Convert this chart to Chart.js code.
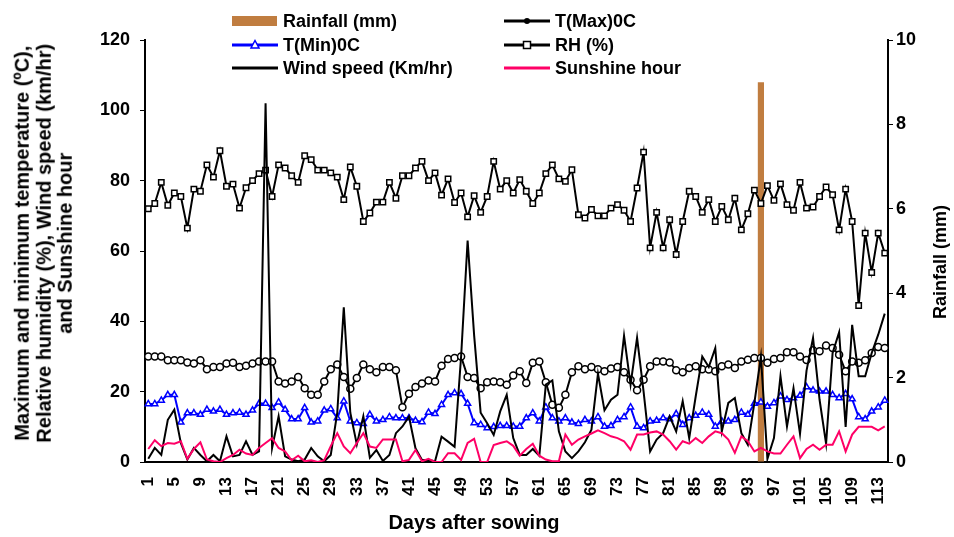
<!DOCTYPE html>
<html>
<head>
<meta charset="utf-8">
<script src="https://cdn.jsdelivr.net/npm/chart.js@4.4.1/dist/chart.umd.min.js"></script>
<style>
html,body{margin:0;padding:0;background:#fff;}
#wrap{position:relative;width:954px;height:537px;font-family:"Liberation Sans",Arial,sans-serif;color:#000;overflow:hidden;}
#c{position:absolute;left:0;top:0;}
.lgt{position:absolute;font-weight:bold;font-size:18px;line-height:20px;white-space:nowrap;}
.lgs{position:absolute;}
.ttl{position:absolute;font-weight:bold;white-space:nowrap;text-align:center;}
</style>
</head>
<body>
<div id="wrap">
<canvas id="c" width="954" height="537"></canvas>
<div id="legend"></div>
<div class="ttl" id="ytitle" style="font-size:20px;line-height:21.5px;width:440px;left:-176px;top:210.5px;transform:rotate(-90deg);">Maximum and minimum temperature (ºC),<br>Relative humidity (%), Wind speed (km/hr)<br>and Sunshine hour</div>
<div class="ttl" id="y1title" style="font-size:18px;line-height:20px;width:160px;left:860px;top:252px;transform:rotate(-90deg);">Rainfall (mm)</div>
<div class="ttl" id="xtitle" style="font-size:20px;line-height:24px;width:300px;left:324px;top:510px;">Days after sowing</div>
</div>
<script>
// ---- data ----
const days = Array.from({length:114}, (_, i) => String(i + 1));

const tmax = [30,30,30,28.9,28.9,28.9,28.3,28,28.9,26.4,27,27,28,28.2,
  27,27.4,28,28.6,28.6,28.6,22.9,22.3,22.9,24.2,21,19.1,19.1,22.9,
  26.4,27.7,24.2,20.8,23.9,27.7,26.4,25.5,27,27,26.1,15.6,19.4,21.3,22.3,
  23.2,22.9,27.4,29.3,29.6,30,24.2,23.9,21,22.7,22.9,22.7,22,24.6,
  25.8,22.5,28.2,28.6,22.7,16.3,15.4,19.1,25.5,27.2,26.4,27,26.4,25.8,26.6,
  27,25.5,23.4,20.4,23.4,27.2,28.6,28.6,28.3,26.1,25.5,26.7,27.2,26.4,
  26.3,25.8,27.2,27.7,26.7,28.6,29.1,29.6,29.6,28.2,29.3,29.6,31.2,31.2,30,
  29,31.8,31.5,33.1,32.4,30.5,25.8,28.6,28.2,28.9,31,32.7,32.4];

const tmin = [16.5,16.5,17.5,19.1,19.1,11.3,13.9,13.9,13.5,14.9,14.4,14.9,13.5,13.9,
  14.1,13.5,14.7,16.6,16.6,15.4,17,14.9,12.2,12.2,15.4,11.3,11.6,14.7,
  15.1,12.5,17.3,11.6,11.1,10.9,13.5,11.6,12,12.8,12.5,12.5,12.5,11.8,11.4,
  14.1,13.7,16.3,19.1,19.6,19.4,16.6,11.1,10.6,9.7,10,10.3,10.3,10.1,
  10.1,12.5,13.9,11.6,15.6,12.5,11.6,12.5,11.3,10.9,12,11.6,12.8,10.1,10.3,
  12,12.8,15.6,10.1,9.7,11.6,11.8,12.5,12.2,13.7,10.6,12.5,13.2,14.1,
  13.5,10.1,11.6,11.6,12,14.1,13.5,16.6,17,15.8,16.8,18.7,17.7,18.2,18.9,
  21.3,20.4,20.1,20.1,19.1,18.2,19.4,17.9,12.8,12.2,14.4,15.6,17.5];

const rh = [72,73.5,79.5,73,76.5,75.5,66.5,77.6,77,84.5,81,88.5,78.4,79,
  72.2,78,80,82,83,75.5,84.5,83.6,81.4,79.5,87.1,86,83,83,
  82.2,81,74.6,83.9,78.4,68.4,70.8,73.9,73.9,79.5,75,81.4,81.4,83.6,85.5,
  80,82.2,75.9,80.5,73.8,76.5,69.7,75.7,71,75.5,85.5,77.6,80,76.5,
  80.3,77,73.5,76.5,82,84.5,80.5,79.8,83.1,70.3,69.4,71.8,70,70,72.2,
  73.2,71.6,68.4,77.9,88.1,60.9,71,60.9,68.9,59,68.4,77,75.5,71,
  74.6,68.4,72.7,68.9,75,66,70.6,77.3,73.5,78.6,74.4,79.1,73.2,71.6,79.5,
  72.2,72.5,75.5,78.2,76,66,77.6,68.4,44.5,65.1,53.9,65.1,59.4];

const wind = [0.9,4,2,12,14.9,5.4,0.7,4,2,0.2,2,0.2,7.3,1.6,
  2,5.9,2,3,102,4,13,1.6,0.7,0.2,0.7,4,1.6,0.2,
  2,14,44,14,5,13,1.2,3.4,0.3,2,8.2,10.1,12.9,3.9,0.6,
  0.6,0.2,7.2,5.8,4.3,30,63,36,14,11,7.7,14.4,19.1,6.8,
  2,2,3.7,1.8,22,23.2,8.7,3,1.1,3,5.6,9.2,25.1,14.7,17.7,
  19.1,35.9,22,35.3,20,3,6.4,8.2,13,8.7,17.3,6.8,18.7,30,
  27,32.4,8.7,16.8,18.2,8.2,4.9,16.8,30,0.9,6.8,24.4,10.1,21,8,
  26,35.3,17.7,5.2,31,36.9,10,39,24.4,24.4,31,36.2,42.2];

const sunshine = [3.7,6.2,4.5,5.4,5.2,5.9,0.9,3.7,5.6,0.7,0.2,0,1.1,2,
  3.5,2.4,2,4,5.4,6.8,4,3,0.5,1.8,0.2,0.5,0,0.5,
  4.5,8.2,4.4,2.5,5.4,8.2,4.4,4,6.4,6.4,6.4,0.2,0.6,3.4,0.2,
  0.9,0,0,2.5,2.5,0.6,5.4,6.6,0,0,4.8,5.4,5.9,4.6,
  1.8,3.7,5.2,1.8,0.7,0.2,0.2,7.8,4.9,6.4,7.3,8.1,9,8.2,7.3,
  6.8,5.9,3.5,7.8,7.8,8.4,8.7,7.8,5.9,3.5,5.9,5.2,6.8,5.4,
  7.3,8.7,8.2,6.4,2.6,7.3,5.9,3,4,3,2.4,2.4,4.9,7.3,1.1,
  3.7,4.9,3.5,4.9,4.9,8.7,3,7.8,10,10,10,9,10.1];

const rainDays = [95];
const rainMm = [9];
const rain = days.map(d => { const k = rainDays.indexOf(Number(d)); return k >= 0 ? rainMm[k] : null; });

const leftTicks = [0, 20, 40, 60, 80, 100, 120];
const rightTicks = [0, 2, 4, 6, 8, 10];

// ---- colours ----
const C_RAIN = '#C07D40', C_TMIN = '#0000FF', C_SUN = '#FF0066', C_BLK = '#000000';

const tickFont = {family: '"Liberation Sans", Arial, sans-serif', size: 18, weight: 'bold'};
const xFont = {family: '"Liberation Sans", Arial, sans-serif', size: 17, weight: 'bold'};

const lineBase = {type: 'line', borderWidth: 2, tension: 0, yAxisID: 'y', pointHoverRadius: 0};

new Chart(document.getElementById('c'), {
  data: {
    labels: days,
    datasets: [
      {type: 'bar', label: 'Rainfall (mm)', data: rain, yAxisID: 'y1', backgroundColor: C_RAIN,
        barPercentage: 0.95, categoryPercentage: 1, order: 10},
      Object.assign({}, lineBase, {label: 'T(Max)0C', data: tmax, borderColor: C_BLK, pointStyle: 'circle',
        pointRadius: 3.5, pointBorderWidth: 1.5, pointBorderColor: C_BLK, pointBackgroundColor: '#fff', order: 5}),
      Object.assign({}, lineBase, {label: 'T(Min)0C', data: tmin, borderColor: C_TMIN, pointStyle: 'triangle',
        pointRadius: 3.5, pointBorderWidth: 1.5, pointBorderColor: C_TMIN, pointBackgroundColor: '#fff', order: 3}),
      Object.assign({}, lineBase, {label: 'RH (%)', data: rh, borderColor: C_BLK, pointStyle: 'rect',
        pointRadius: 3.8, pointBorderWidth: 1.5, pointBorderColor: C_BLK, pointBackgroundColor: '#fff', order: 4}),
      Object.assign({}, lineBase, {label: 'Wind speed (Km/hr)', data: wind, borderColor: C_BLK, pointRadius: 0, order: 2}),
      Object.assign({}, lineBase, {label: 'Sunshine hour', data: sunshine, borderColor: C_SUN, pointRadius: 0, order: 1})
    ]
  },
  options: {
    responsive: false,
    animation: false,
    events: [],
    layout: {padding: {top: 40, left: 0, right: 0, bottom: 0}},
    plugins: {legend: {display: false}, tooltip: {enabled: false}, title: {display: false}},
    scales: {
      x: {
        type: 'category', offset: true,
        grid: {display: false},
        border: {display: true, color: C_BLK, width: 2},
        ticks: {autoSkip: false, minRotation: 90, maxRotation: 90, padding: 7, color: C_BLK, font: xFont,
          callback: (v, i) => (i % 4 === 0 ? days[i] : null)},
        afterFit: s => { s.height = 75; }
      },
      y: {
        position: 'left', min: 0, max: 120,
        afterBuildTicks: s => { s.ticks = leftTicks.map(v => ({value: v})); },
        grid: {drawOnChartArea: false, drawTicks: true, tickLength: 5, color: C_BLK, lineWidth: 1},
        border: {display: true, color: C_BLK, width: 2},
        ticks: {padding: 10, color: C_BLK, font: tickFont},
        afterFit: s => { s.width = 145; }
      },
      y1: {
        position: 'right', min: 0, max: 10,
        afterBuildTicks: s => { s.ticks = rightTicks.map(v => ({value: v})); },
        grid: {drawOnChartArea: false, drawTicks: true, tickLength: 5, color: C_BLK, lineWidth: 1},
        border: {display: true, color: C_BLK, width: 2},
        ticks: {padding: 3, color: C_BLK, font: tickFont},
        afterFit: s => { s.width = 66; }
      }
    }
  }
});

// ---- legend (HTML, two columns) ----
const legendItems = [
  {text: 'Rainfall (mm)', kind: 'bar', color: C_RAIN, x: 232, y: 21},
  {text: 'T(Min)0C', kind: 'tri', color: C_TMIN, x: 232, y: 45},
  {text: 'Wind speed (Km/hr)', kind: 'line', color: C_BLK, x: 232, y: 68},
  {text: 'T(Max)0C', kind: 'circ', color: C_BLK, x: 504, y: 21},
  {text: 'RH (%)', kind: 'sq', color: C_BLK, x: 504, y: 45},
  {text: 'Sunshine hour', kind: 'line', color: C_SUN, x: 504, y: 68}
];
const lg = document.getElementById('legend');
legendItems.forEach(it => {
  let g = '';
  if (it.kind === 'bar') {
    g = `<rect x="0" y="2" width="45" height="10" fill="${it.color}"/>`;
  } else {
    g = `<line x1="0" y1="7" x2="46" y2="7" stroke="${it.color}" stroke-width="3"/>`;
    if (it.kind === 'circ') g += `<circle cx="23" cy="7" r="3" fill="${it.color}"/>`;
    if (it.kind === 'sq') g += `<rect x="19.5" y="3.5" width="7" height="7" fill="#fff" stroke="${it.color}" stroke-width="1.5"/>`;
    if (it.kind === 'tri') g += `<polygon points="23,2.5 27,10 19,10" fill="#fff" stroke="${it.color}" stroke-width="1.5"/>`;
  }
  const s = document.createElement('div');
  s.className = 'lgs';
  s.style.left = it.x + 'px';
  s.style.top = (it.y - 7) + 'px';
  s.innerHTML = `<svg width="48" height="14" xmlns="http://www.w3.org/2000/svg">${g}</svg>`;
  lg.appendChild(s);
  const t = document.createElement('div');
  t.className = 'lgt';
  t.style.left = (it.x + 51) + 'px';
  t.style.top = (it.y - 10) + 'px';
  t.textContent = it.text;
  lg.appendChild(t);
});
</script>
</body>
</html>
